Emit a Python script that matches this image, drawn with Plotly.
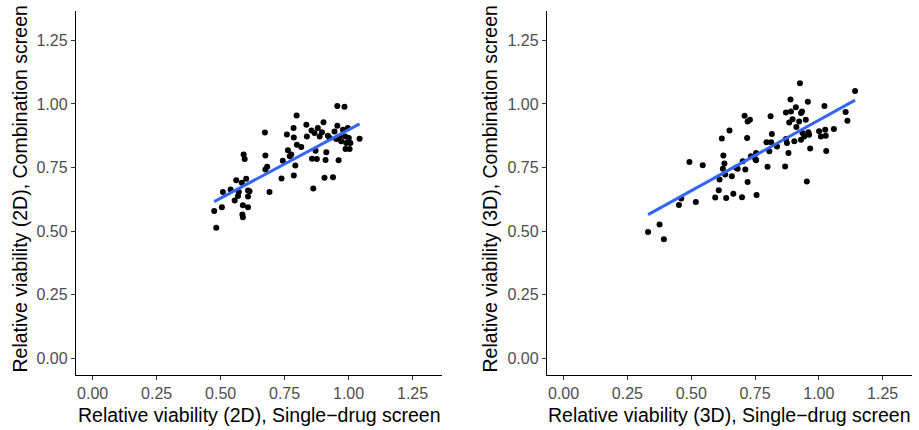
import numpy as np
import plotly.graph_objects as go

# Left panel (2D): single-drug vs combination
x2d = [0.475, 0.483, 0.505, 0.509, 0.539, 0.555, 0.561, 0.568, 0.571, 0.583,
       0.590, 0.594, 0.587, 0.585, 0.587, 0.600, 0.607, 0.613, 0.607, 0.607,
       0.673, 0.675, 0.675, 0.682, 0.691, 0.738, 0.743, 0.759, 0.763, 0.770,
       0.776, 0.785, 0.786, 0.786, 0.792, 0.797, 0.798, 0.815, 0.835, 0.837,
       0.855, 0.857, 0.862, 0.867, 0.871, 0.876, 0.880, 0.887, 0.896, 0.902,
       0.906, 0.910, 0.913, 0.919, 0.926, 0.939, 0.945, 0.952, 0.956, 0.956,
       0.961, 0.965, 0.971, 0.978, 0.984, 0.987, 0.988, 0.991, 0.997, 1.001,
       1.004, 1.007, 1.043]
y2d = [0.579, 0.513, 0.594, 0.654, 0.664, 0.621, 0.700, 0.638, 0.654, 0.690,
       0.801, 0.784, 0.602, 0.566, 0.555, 0.706, 0.660, 0.657, 0.636, 0.594,
       0.888, 0.797, 0.742, 0.753, 0.654, 0.707, 0.777, 0.880, 0.818, 0.794,
       0.801, 0.905, 0.868, 0.719, 0.758, 0.954, 0.840, 0.831, 0.918, 0.872,
       0.896, 0.785, 0.668, 0.886, 0.816, 0.784, 0.905, 0.872, 0.889, 0.928,
       0.710, 0.780, 0.810, 0.875, 0.866, 0.712, 0.892, 0.862, 0.992, 0.914,
       0.779, 0.872, 0.853, 0.898, 0.989, 0.872, 0.823, 0.846, 0.905, 0.866,
       0.823, 0.846, 0.863]

# Right panel (3D)
x3d = [0.331, 0.376, 0.393, 0.452, 0.461, 0.493, 0.518, 0.545, 0.594, 0.608,
       0.611, 0.620, 0.626, 0.630, 0.624, 0.633, 0.637, 0.650, 0.659, 0.665,
       0.676, 0.682, 0.699, 0.702, 0.709, 0.712, 0.719, 0.721, 0.730, 0.721,
       0.734, 0.751, 0.754, 0.754, 0.756, 0.795, 0.799, 0.806, 0.811, 0.813,
       0.816, 0.836, 0.868, 0.871, 0.871, 0.875, 0.881, 0.884, 0.889, 0.891,
       0.897, 0.904, 0.910, 0.912, 0.923, 0.926, 0.930, 0.934, 0.936, 0.930,
       0.943, 0.949, 0.953, 0.957, 0.959, 0.962, 0.966, 1.001, 1.008, 1.022,
       1.025, 1.027, 1.029, 1.059, 1.105, 1.112, 1.142]
y3d = [0.497, 0.526, 0.468, 0.603, 0.628, 0.772, 0.615, 0.759, 0.632, 0.661,
       0.703, 0.864, 0.797, 0.766, 0.745, 0.723, 0.630, 0.896, 0.716, 0.647,
       0.749, 0.745, 0.633, 0.775, 0.953, 0.742, 0.866, 0.931, 0.938, 0.693,
       0.794, 0.784, 0.807, 0.779, 0.642, 0.849, 0.753, 0.814, 0.952, 0.849,
       0.882, 0.833, 0.754, 0.966, 0.862, 0.846, 0.807, 0.927, 1.017, 0.970,
       0.940, 0.853, 0.987, 0.909, 0.931, 1.081, 0.964, 0.970, 0.886, 0.859,
       0.872, 0.938, 0.695, 1.008, 0.889, 0.879, 0.825, 0.893, 0.872, 0.992,
       0.898, 0.875, 0.815, 0.901, 0.968, 0.934, 1.051]

tick_vals = [0, 0.25, 0.5, 0.75, 1.0, 1.25]
tick_text = ["0.00", "0.25", "0.50", "0.75", "1.00", "1.25"]

x_titles = ["Relative viability (2D), Single\u2212drug screen",
            "Relative viability (3D), Single\u2212drug screen"]
y_titles = ["Relative viability (2D), Combination screen",
            "Relative viability (3D), Combination screen"]

W, H = 919, 430
FONT = "Liberation Sans, Arial, sans-serif"
fig = go.Figure()

panels = [(x2d, y2d, "x", "y"), (x3d, y3d, "x2", "y2")]
for xs, ys, xa, ya in panels:
    xs = np.array(xs); ys = np.array(ys)
    fig.add_trace(go.Scatter(x=xs, y=ys, mode="markers", xaxis=xa, yaxis=ya,
                             marker=dict(color="black", size=6, line=dict(width=0)),
                             showlegend=False, hoverinfo="skip"))
    b, a = np.polyfit(xs, ys, 1)
    lx = np.linspace(xs.min(), xs.max(), 50)
    fig.add_trace(go.Scatter(x=lx, y=a + b * lx, mode="lines", xaxis=xa, yaxis=ya,
                             line=dict(color="#3366FF", width=3),
                             showlegend=False, hoverinfo="skip"))

rng = [-0.065, 1.365]
axis_common = dict(range=rng, tickvals=tick_vals, ticktext=tick_text,
                   showgrid=False, zeroline=False, showline=True,
                   linecolor="black", linewidth=1.4,
                   ticks="outside", ticklen=4, tickcolor="#333333", tickwidth=1.2,
                   tickfont=dict(family=FONT, size=16, color="#4D4D4D"))

xdoms = [[76 / W, 442 / W], [547 / W, 912 / W]]
ydom = [(H - 375) / H, (H - 11) / H]
fig.update_layout(
    width=W, height=H, margin=dict(l=0, r=0, t=0, b=0),
    paper_bgcolor="white", plot_bgcolor="white",
    xaxis=dict(domain=xdoms[0], anchor="y", **axis_common),
    yaxis=dict(domain=ydom, anchor="x", **axis_common),
    xaxis2=dict(domain=xdoms[1], anchor="y2", **axis_common),
    yaxis2=dict(domain=ydom, anchor="x2", **axis_common),
)

ytitle_x = [19.5 / W, 489.5 / W]
for i in range(2):
    fig.add_annotation(text=x_titles[i], xref="paper", yref="paper",
                       x=(xdoms[i][0] + xdoms[i][1]) / 2, y=(H - 415) / H,
                       xanchor="center", yanchor="middle", showarrow=False,
                       font=dict(family=FONT, size=19.5, color="black"))
    fig.add_annotation(text=y_titles[i], xref="paper", yref="paper",
                       x=ytitle_x[i], y=(H - 189) / H, textangle=-90,
                       xanchor="center", yanchor="middle", showarrow=False,
                       font=dict(family=FONT, size=19.5, color="black"))

fig.write_html("out.html")
